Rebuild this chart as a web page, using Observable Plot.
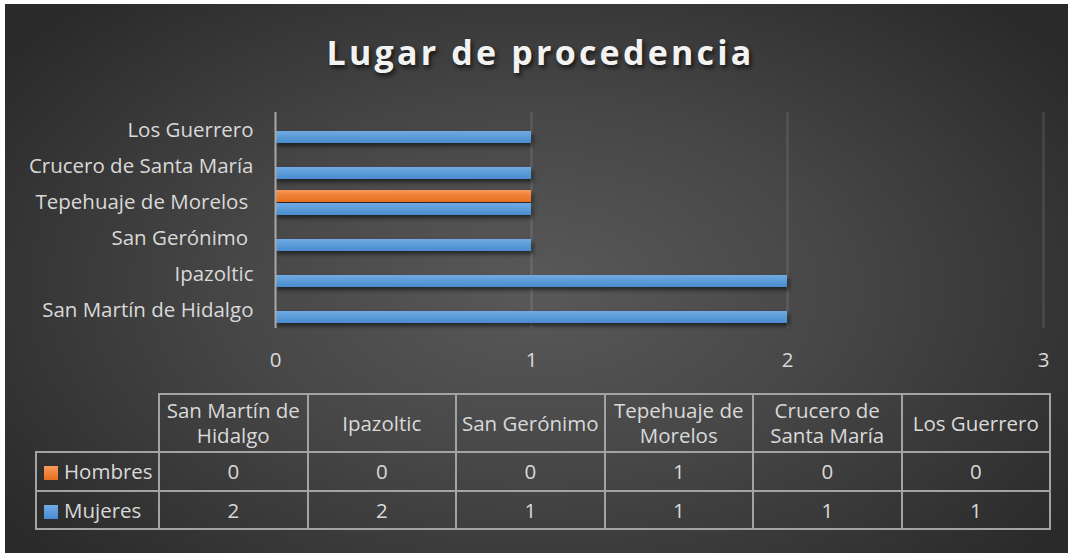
<!DOCTYPE html>
<html><head><meta charset="utf-8">
<script src="https://cdn.jsdelivr.net/npm/d3@7"></script>
<script src="https://cdn.jsdelivr.net/npm/@observablehq/plot@0.6"></script>
<style>
body{margin:0;background:#fff;}
#chart{position:absolute;left:5px;top:4px;width:1063px;height:549px;
  background:radial-gradient(ellipse 62% 72% at 50% 52%, #595959 0%, #474747 45%, #2a2a2a 100%);
  font-family:"Open Sans",sans-serif;color:#d9d9d9;overflow:hidden}
#title{position:absolute;left:4px;width:100%;top:25px;text-align:center;font-weight:700;font-size:34px;line-height:46px;letter-spacing:3.2px;color:#f2f2f2;text-shadow:2px 3px 4px rgba(0,0,0,.65)}
#plot{position:absolute;left:0;top:0}
#plot g[aria-label="bar"] rect{filter:drop-shadow(2px 3px 2px rgba(0,0,0,.55))}
#plot g[aria-label="fy-axis tick label"] text, #plot g[aria-label="x-axis tick label"] text{font-size:20.5px}
#tbl{position:absolute;left:30px;top:389px;border-collapse:collapse;table-layout:fixed;width:1016px}
#tbl td{border:2px solid #a3a3a3;text-align:center;font-size:20.5px;line-height:25px;padding:0;color:#d9d9d9;white-space:normal}
#tbl td.empty{border-top:none;border-left:none}
#tbl td.leg{text-align:left;padding-left:7px}
.sw{display:inline-block;width:14px;height:14px;margin-right:6px;vertical-align:-1px}
</style>
</head><body>
<svg width="0" height="0" style="position:absolute">
  <defs>
    <linearGradient id="gH" x1="0" y1="0" x2="0" y2="1">
      <stop offset="0" stop-color="#f79a5a"/><stop offset="0.5" stop-color="#f07e33"/><stop offset="1" stop-color="#e66f1f"/>
    </linearGradient>
    <linearGradient id="gM" x1="0" y1="0" x2="0" y2="1">
      <stop offset="0" stop-color="#71abe4"/><stop offset="0.5" stop-color="#5b9bd8"/><stop offset="1" stop-color="#4a8bd0"/>
    </linearGradient>
  </defs>
</svg>
<div id="chart">
  <div id="title">Lugar de procedencia</div>
  <div id="plot"></div>
  <table id="tbl"></table>
</div>
<script>
const categories = ["San Martín de Hidalgo", "Ipazoltic", "San Gerónimo ", "Tepehuaje de Morelos ", "Crucero de Santa María", "Los Guerrero"];
const series = ["Hombres", "Mujeres"];
const hombres = [0, 0, 0, 1, 0, 0];
const mujeres = [2, 2, 1, 1, 1, 1];
const xTicks = [0, 1, 2, 3];
const seriesFill = {Hombres: "url(#gH)", Mujeres: "url(#gM)"};
const seriesValues = {Hombres: hombres, Mujeres: mujeres};

const data = categories.flatMap((c, i) => series.map(s => ({cat: c, series: s, value: seriesValues[s][i]})));

const plot = Plot.plot({
  width: 1063, height: 380,
  marginLeft: 270, marginRight: 25, marginTop: 106, marginBottom: 55,
  style: {background: "transparent", color: "#d9d9d9", fontFamily: "Open Sans", fontSize: "20.5px", overflow: "visible"},
  x: {domain: [0, 3], ticks: xTicks, tickSize: 0, tickPadding: 24, label: null, tickFormat: d3.format("d")},
  fy: {domain: categories.slice().reverse(), padding: 0, label: null, tickSize: 0, tickPadding: 22, axis: "left",
       tickFormat: d => d.replace(/ $/, "\u00a0")},
  y: {domain: series, paddingInner: 0.1, paddingOuter: 0.38, axis: null},
  marks: [
    Plot.ruleX(xTicks.slice(1), {stroke: "#ffffff", strokeOpacity: 0.1, strokeWidth: 2.5}),
    ...series.map(s => Plot.barX(data, {filter: d => d.series === s, fy: "cat", y: "series", x: "value", fill: seriesFill[s]})),
    Plot.ruleX([0], {stroke: "#a8a8a8", strokeWidth: 2})
  ]
});
document.getElementById("plot").appendChild(plot);

// data table
const tbl = document.getElementById("tbl");
const cg = document.createElement("colgroup");
cg.innerHTML = `<col style="width:123px">` + categories.map(() => `<col>`).join("");
tbl.appendChild(cg);
const hr = tbl.insertRow();
hr.style.height = "58px";
const e = hr.insertCell(); e.className = "empty";
categories.forEach(c => { const td = hr.insertCell(); td.textContent = c.trim(); });
series.forEach((s, si) => {
  const r = tbl.insertRow();
  r.style.height = si === 0 ? "39px" : "38px";
  const l = r.insertCell(); l.className = "leg";
  l.innerHTML = `<span class="sw"></span>`;
  l.querySelector(".sw").style.background = s === "Hombres" ? "linear-gradient(#f79a5a,#e66f1f)" : "linear-gradient(#71abe4,#4a8bd0)";
  l.appendChild(document.createTextNode(s));
  seriesValues[s].forEach(v => { const td = r.insertCell(); td.textContent = v; });
});
</script>
</body></html>
